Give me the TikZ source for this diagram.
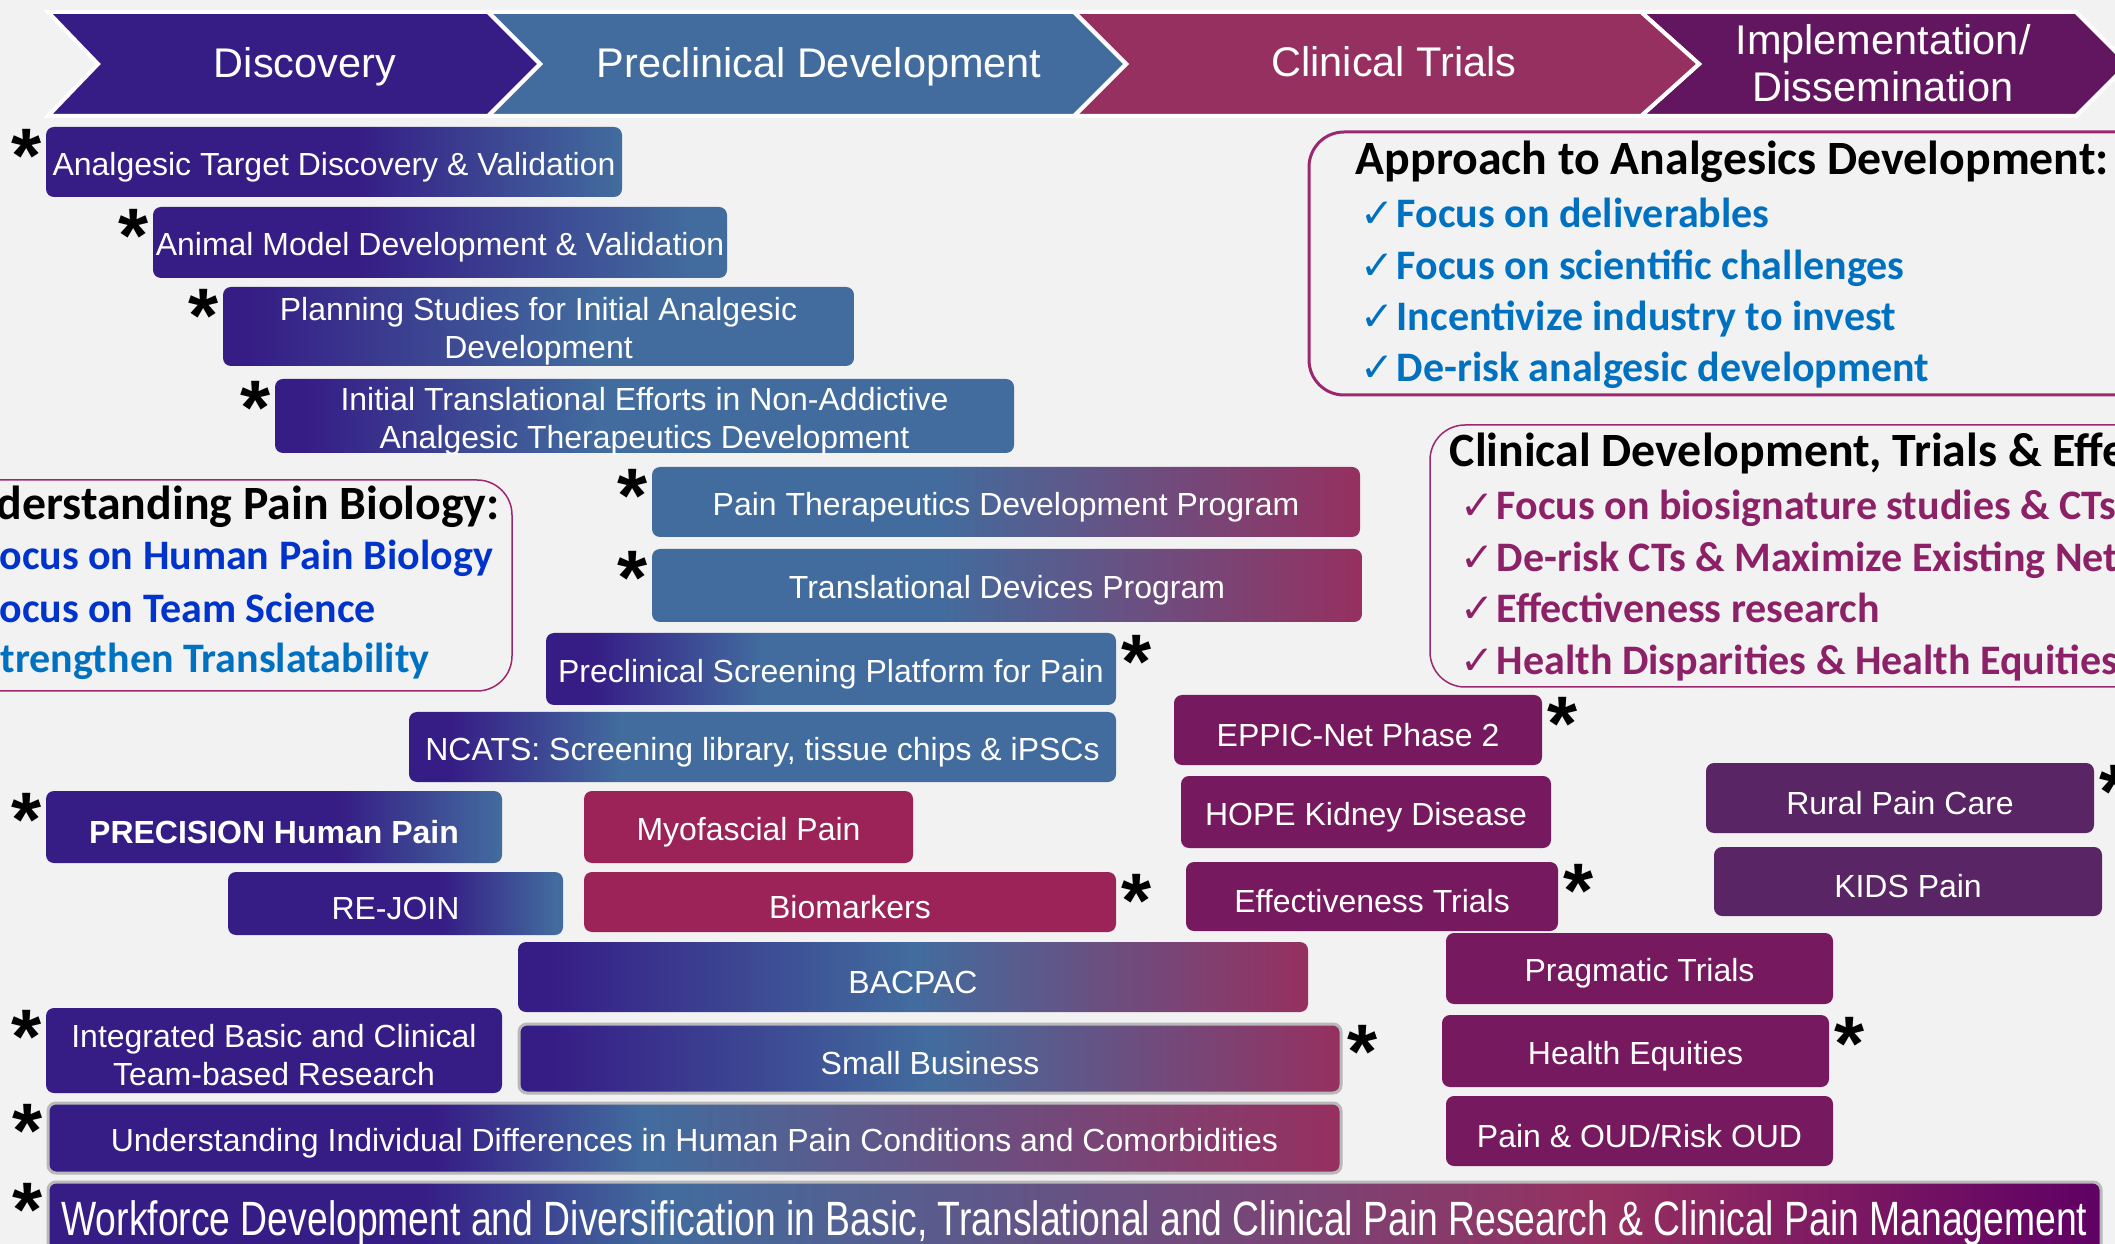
\documentclass[tikz,border=0pt]{standalone}
\usepackage{fontspec}
\setmainfont{Liberation Sans}
\newfontfamily\calibri{Carlito}
\newfontfamily\dejavu{DejaVu Sans}
\newfontfamily\narrowsans[FakeStretch=0.775]{Liberation Sans}

\definecolor{bggray}{RGB}{242,242,242}
\definecolor{indigo}{RGB}{54,29,134}
\definecolor{steel}{RGB}{66,108,158}
\definecolor{rose}{RGB}{150,48,96}
\definecolor{plum}{RGB}{99,22,96}
\definecolor{deepplum}{RGB}{95,0,100}
\definecolor{wine}{RGB}{155,35,88}
\definecolor{grape}{RGB}{119,25,94}
\definecolor{aubergine}{RGB}{90,37,100}
\definecolor{framec}{RGB}{155,40,110}
\definecolor{bluetxt}{RGB}{0,112,192}
\definecolor{deepblue}{RGB}{0,51,204}
\definecolor{magtxt}{RGB}{140,33,104}

\newcommand\boxfont{\fontsize{9.1}{10.8}\selectfont}
\newcommand\phasefont{\fontsize{11.8}{13.4}\selectfont}
\newcommand\titlefont{\calibri\bfseries\fontsize{13.6}{14.5}\selectfont}
\newcommand\listfont{\calibri\bfseries\fontsize{11.95}{14.5}\selectfont}
\newcommand\astfont{\bfseries\fontsize{22}{22}\selectfont}
\newcommand\chk{\makebox[3.6mm][l]{\dejavu\fontsize{11.5}{10}\selectfont ✓}}

\def\ibshade#1#2#3{\pgfdeclarehorizontalshading{#1}{100bp}{color(0bp)=(indigo); color(#2bp)=(indigo); color(#3bp)=(steel); color(100bp)=(steel)}}
\ibshade{ibatdv}{52}{75}
\ibshade{ibamdv}{43}{72}
\ibshade{ibplan}{27}{55}
\ibshade{ibinit}{27}{47}
\ibshade{ibpsp}{29}{44}
\ibshade{ibncats}{28}{40}
\ibshade{ibprec}{57}{75}
\ibshade{ibrejoin}{57}{74}
\pgfdeclarehorizontalshading{brtrans}{100bp}{color(0bp)=(steel); color(45bp)=(steel); color(75bp)=(rose); color(100bp)=(rose)}
\pgfdeclarehorizontalshading{ibrmid}{100bp}{color(0bp)=(indigo); color(27bp)=(indigo); color(50bp)=(steel); color(75bp)=(rose); color(100bp)=(rose)}
\pgfdeclarehorizontalshading{ibrlong}{100bp}{color(0bp)=(indigo); color(40bp)=(indigo); color(48bp)=(steel); color(75bp)=(rose); color(100bp)=(rose)}
\pgfdeclarehorizontalshading{ibrwork}{100bp}{color(0bp)=(indigo); color(34bp)=(indigo); color(40bp)=(steel); color(63bp)=(rose); color(75bp)=(deepplum); color(100bp)=(deepplum)}

% box from (x1,y1) to (x2,y2), label set a little low as in the slide
\def\pbox[#1](#2)(#3,#4,#5,#6)[#7]#8{\node[box,#1,minimum width={(#5-#3)*0.1mm},minimum height={(#6-#4)*0.1mm}] (#2) at ({(#3+#5)/2},{(#4+#6)/2}) {};
	\node[boxtext,#7] (#2-t) at ([yshift=-0.5mm]#2.center) {#8};}

\tikzset{
  box/.style={rounded corners=0.8mm, inner sep=0pt},
  boxtext/.style={text=white, align=center, inner sep=0pt, font=\boxfont},
  rim/.style={draw=gray!55, line width=0.3mm},
  chev/.style={draw=white, line width=0.4mm},
  phase/.style={text=white, align=center, font=\phasefont},
  frame/.style={draw=framec, line width=0.3mm, rounded corners=3.5mm},
  ttl/.style={font=\titlefont, anchor=base west, inner sep=0pt},
  lst/.style={font=\listfont, anchor=base west, inner sep=0pt},
  astl/.style={font=\astfont, inner sep=0pt, anchor=north, xshift=-1.9mm, yshift=-0.2mm},
  astr/.style={font=\astfont, inner sep=0pt, anchor=north, xshift=2.0mm, yshift=-0.2mm}
}

\begin{document}
\begin{tikzpicture}[x=0.1mm,y=-0.1mm]
			%%%%% START %%%%%
			\useasboundingbox (0,0) rectangle (2115,1244);
			\clip (0,0) rectangle (2115,1244);
			\fill[bggray] (0,0) rectangle (2115,1244);
			
			\draw[chev,fill=plum] (1641,12) -- (2076,12) -- (2128,64) -- (2076,116) -- (1641,116) -- (1699,64) -- cycle;
			\draw[chev,fill=rose] (1074,12) -- (1641,12) -- (1699,64) -- (1641,116) -- (1074,116) -- (1126,64) -- cycle;
			\draw[chev,fill=steel] (488,12) -- (1074,12) -- (1126,64) -- (1074,116) -- (488,116) -- (540,64) -- cycle;
			\draw[chev,fill=indigo] (48,12) -- (488,12) -- (540,64) -- (488,116) -- (48,116) -- (98,64) -- cycle;
			\node[phase] (disc) at (305,67) {Discovery};
			\node[phase] (precl) at (819,67) {Preclinical Development};
			\node[phase] (clin) at (1394,62) {Clinical Trials};
			\node[phase] (impl) at (1883,63) {Implementation/\\Dissemination};
			
			\draw[frame, line width=0.15mm] (-200,480) rectangle (512,691);
			\node[ttl] (bio) at (-61,520) {Understanding Pain Biology:};
			\node[lst, text=deepblue] (bio1) at (-20,570) {Focus on Human Pain Biology};
			\node[lst, text=deepblue] (bio2) at (-20,623) {Focus on Team Science};
			\node[lst, text=bluetxt] (bio3) at (-20,672) {Strengthen Translatability};
			
			\draw[frame] (1309,132) rectangle (2250,395);
			\node[ttl] (appr) at (1355,175) {Approach to Analgesics Development:};
			\node[lst, text=bluetxt] (appr1) at (1360,228) {\chk Focus on deliverables};
			\node[lst, text=bluetxt] (appr2) at (1360,280) {\chk Focus on scientific challenges};
			\node[lst, text=bluetxt] (appr3) at (1360,331) {\chk Incentivize industry to invest};
			\node[lst, text=bluetxt] (appr4) at (1360,382) {\chk De-risk analgesic development};
			
			\draw[frame, line width=0.15mm] (1430,425) rectangle (2250,687);
			\node[ttl] (cdev) at (1449,467) {Clinical Development, Trials \& Effectiveness:};
			\node[lst, text=magtxt] (cdev1) at (1460,520) {\chk Focus on biosignature studies \& CTs};
			\node[lst, text=magtxt] (cdev2) at (1460,572) {\chk De-risk CTs \& Maximize Existing Networks};
			\node[lst, text=magtxt] (cdev3) at (1460,623) {\chk Effectiveness research};
			\node[lst, text=magtxt] (cdev4) at (1460,674) {\chk Health Disparities \& Health Equities};
			
			\pbox[shade,shading=ibatdv](atdv)(46,127,622,197)[]{Analgesic Target Discovery \& Validation}
			\node[astl] (atdv-a) at (atdv.north west) {*};
			\pbox[shade,shading=ibamdv](amdv)(153,207,727,278)[]{Animal Model Development \& Validation}
			\node[astl] (amdv-a) at (amdv.north west) {*};
			\pbox[shade,shading=ibplan](plan)(223,287,854,366)[]{Planning Studies for Initial Analgesic\\Development}
			\node[astl] (plan-a) at (plan.north west) {*};
			\pbox[shade,shading=ibinit](init)(275,379,1014,453)[]{Initial Translational Efforts in Non-Addictive\\Analgesic Therapeutics Development}
			\node[astl] (init-a) at (init.north west) {*};
			
			\pbox[shade,shading=brtrans](ptdp)(652,467,1360,537)[]{Pain Therapeutics Development Program}
			\node[astl] (ptdp-a) at (ptdp.north west) {*};
			\pbox[shade,shading=brtrans](tdp)(652,549,1362,622)[]{Translational Devices Program}
			\node[astl] (tdp-a) at (tdp.north west) {*};
			\pbox[shade,shading=ibpsp](psp)(546,633,1116,705)[]{Preclinical Screening Platform for Pain}
			\node[astr] (psp-a) at (psp.north east) {*};
			\pbox[shade,shading=ibncats](ncats)(409,712,1116,782)[]{NCATS: Screening library, tissue chips \& iPSCs}
			
			\pbox[shade,shading=ibprec](prec)(46,791,502,863)[font=\boxfont\bfseries]{PRECISION Human Pain}
			\node[astl] (prec-a) at (prec.north west) {*};
			\pbox[fill=wine](myo)(584,791,913,863)[]{Myofascial Pain}
			\pbox[shade,shading=ibrejoin](rejoin)(228,872,563,935)[]{RE-JOIN}
			\pbox[fill=wine](biom)(584,872,1116,932)[]{Biomarkers}
			\node[astr] (biom-a) at (biom.north east) {*};
			\pbox[shade,shading=ibrmid](bacpac)(518,942,1308,1012)[]{BACPAC}
			\pbox[fill=indigo](integ)(46,1008,502,1093)[]{Integrated Basic and Clinical\\Team-based Research}
			\node[astl] (integ-a) at (integ.north west) {*};
			\pbox[shade,shading=ibrmid,rim](sbiz)(519,1024,1341,1093)[]{Small Business}
			\node[astr] (sbiz-a) at (sbiz.north east) {*};
			\pbox[shade,shading=ibrlong,rim](indiv)(48,1103,1341,1173)[]{Understanding Individual Differences in Human Pain Conditions and Comorbidities}
			\node[astl] (indiv-a) at (indiv.north west) {*};
			\pbox[shade,shading=ibrwork,rim](work)(48,1182,2101,1254)[font=\narrowsans\fontsize{13.7}{14}\selectfont]{Workforce Development and Diversification in Basic, Translational and Clinical Pain Research \& Clinical Pain Management}
			\node[astl] (work-a) at (work.north west) {*};
			
			\pbox[fill=grape](eppic)(1174,695,1542,765)[]{EPPIC-Net Phase 2}
			\node[astr] (eppic-a) at (eppic.north east) {*};
			\pbox[fill=grape](hope)(1181,776,1551,848)[]{HOPE Kidney Disease}
			\pbox[fill=grape](efft)(1186,862,1558,931)[]{Effectiveness Trials}
			\node[astr] (efft-a) at (efft.north east) {*};
			\pbox[fill=aubergine](rural)(1706,763,2094,833)[]{Rural Pain Care}
			\node[astr] (rural-a) at (rural.north east) {*};
			\pbox[fill=aubergine](kids)(1714,847,2102,916)[]{KIDS Pain}
			\pbox[fill=grape](pragm)(1446,933,1833,1004)[]{Pragmatic Trials}
			\pbox[fill=grape](heq)(1442,1015,1829,1087)[]{Health Equities}
			\node[astr] (heq-a) at (heq.north east) {*};
			\pbox[fill=grape](oud)(1446,1096,1833,1166)[]{Pain \& OUD/Risk OUD}
			
			%%%%% END %%%%%
\end{tikzpicture}
\end{document}
